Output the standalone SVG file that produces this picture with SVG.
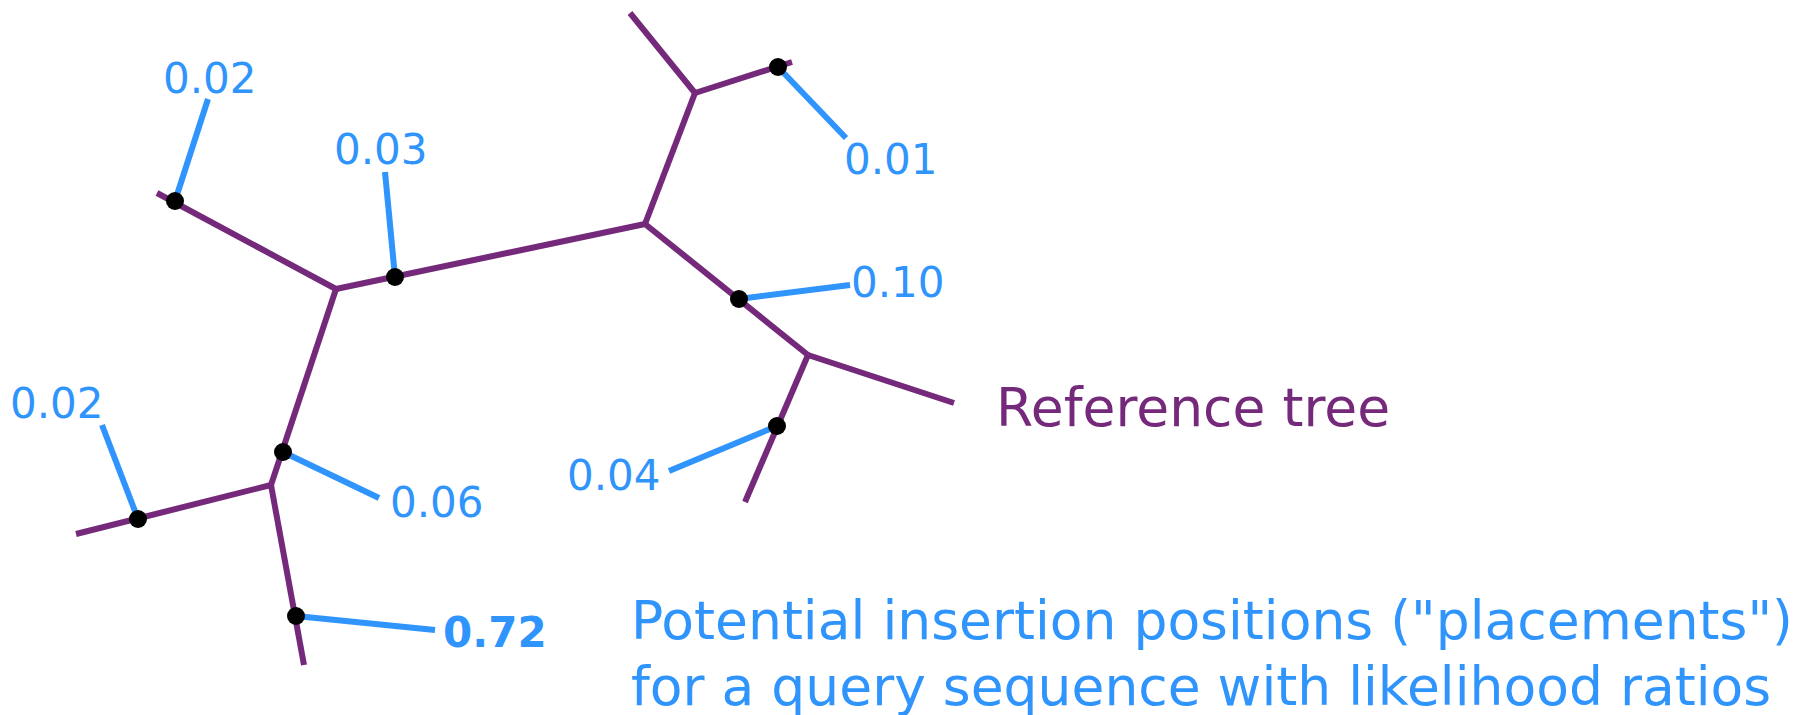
<svg xmlns="http://www.w3.org/2000/svg" width="1810" height="715" viewBox="0 0 1810 715">
  <style>
    .tree { stroke: #75297a; stroke-width: 6; fill: none; stroke-linecap: butt; }
    .pl { stroke: #2f94fc; stroke-width: 6; fill: none; stroke-linecap: butt; }
    .dot { fill: #000000; }
    .lr { font-family: "DejaVu Sans", sans-serif; font-size: 42px; fill: #2f94fc; }
    .best { font-weight: bold; }
    .cap { font-family: "DejaVu Sans", sans-serif; font-size: 53.5px; }
  </style>
  <rect width="1810" height="715" fill="#ffffff"/>

  <!-- tree edges and placement stems -->
  <g id="connectors">
    <g id="tree-edges" class="tree">
      <line x1="695" y1="93" x2="630" y2="13"/>
      <line x1="695" y1="93" x2="792" y2="62"/>
      <line x1="695" y1="93" x2="645" y2="224"/>
      <line x1="645" y1="224" x2="336" y2="289"/>
      <line x1="645" y1="224" x2="808" y2="355"/>
      <line x1="336" y1="289" x2="157" y2="193"/>
      <line x1="336" y1="289" x2="271" y2="485"/>
      <line x1="808" y1="355" x2="954" y2="403"/>
      <line x1="808" y1="355" x2="745" y2="502"/>
      <line x1="271" y1="485" x2="76" y2="534"/>
      <line x1="271" y1="485" x2="304" y2="665"/>
    </g>
    <g id="placement-stems" class="pl">
      <line x1="778" y1="67" x2="846" y2="138"/>
      <line x1="175" y1="201" x2="208" y2="99"/>
      <line x1="395" y1="277" x2="385" y2="172"/>
      <line x1="739" y1="299" x2="850" y2="285"/>
      <line x1="777" y1="426" x2="669" y2="471"/>
      <line x1="283" y1="452" x2="379" y2="498"/>
      <line x1="138" y1="519" x2="102" y2="425"/>
      <line x1="296" y1="616" x2="435" y2="630"/>
    </g>
  </g>

  <!-- placements -->
  <g id="p1"><circle class="dot" cx="778" cy="67" r="9"/><text class="lr" x="844" y="174">0.01</text></g>
  <g id="p2"><circle class="dot" cx="175" cy="201" r="9"/><text class="lr" x="163" y="93">0.02</text></g>
  <g id="p3"><circle class="dot" cx="395" cy="277" r="9"/><text class="lr" x="334" y="164">0.03</text></g>
  <g id="p4"><circle class="dot" cx="739" cy="299" r="9"/><text class="lr" x="851" y="297">0.10</text></g>
  <g id="p5"><circle class="dot" cx="777" cy="426" r="9"/><text class="lr" x="567" y="490">0.04</text></g>
  <g id="p6"><circle class="dot" cx="283" cy="452" r="9"/><text class="lr" x="390" y="517">0.06</text></g>
  <g id="p7"><circle class="dot" cx="138" cy="519" r="9"/><text class="lr" x="10" y="418">0.02</text></g>
  <g id="p8"><circle class="dot" cx="296" cy="616" r="9"/><text class="lr best" x="443" y="647">0.72</text></g>

  <!-- captions -->
  <g id="caption-tree"><text class="cap" x="996" y="426" fill="#75297a">Reference tree</text></g>
  <g id="caption-placements">
    <text class="cap" x="631" y="639" fill="#2f94fc">Potential insertion positions ("placements")</text>
    <text class="cap" x="631" y="705" fill="#2f94fc">for a query sequence with likelihood ratios</text>
  </g>
</svg>
